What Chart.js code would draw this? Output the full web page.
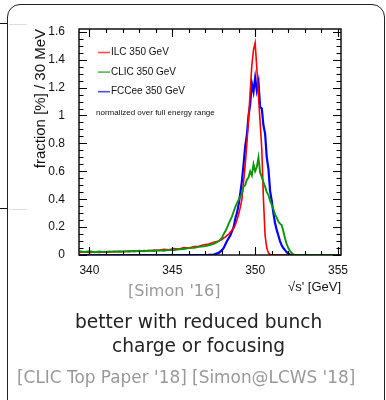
<!DOCTYPE html>
<html>
<head>
<meta charset="utf-8">
<script src="https://cdn.jsdelivr.net/npm/chart.js@4.4.1/dist/chart.umd.min.js"></script>
<style>
  html, body { margin: 0; padding: 0; background: #fff; }
  body { width: 386px; height: 400px; position: relative; overflow: hidden; }
  .box {
    position: absolute; left: 7px; top: 4px; width: 376px; height: 430px;
    border: 1.3px solid #222; border-radius: 13px; background: #fff;
  }
  .stub { position: absolute; height: 1.3px; }
  #wrap { position: absolute; left: 0; top: 0; width: 386px; height: 300px; }
  .cap { position: absolute; left: 0; width: 386px; white-space: nowrap;
         font-family: "DejaVu Sans", sans-serif; }
</style>
</head>
<body>
<!-- bits of the neighbouring figure peeking out on the left -->
<div class="stub" style="left:0;top:23px;width:8px;background:#111"></div>
<div class="stub" style="left:0;top:208px;width:8px;background:#111"></div>
<div class="box"></div>
<div class="stub" style="left:9px;top:23.5px;width:18px;background:#ddd"></div>
<div class="stub" style="left:9px;top:208.5px;width:18px;background:#ddd"></div>

<div id="wrap"><canvas id="chart" width="386" height="300"></canvas></div>

<div class="cap" style="top:281px;font-size:16px;color:#999;">
  <span style="position:absolute;left:128px;">[Simon '16]</span>
</div>
<div class="cap" style="top:311px;font-size:18.6px;color:#222;">
  <span style="position:absolute;left:75px;">better with reduced bunch</span>
</div>
<div class="cap" style="top:335px;font-size:18.6px;color:#222;">
  <span style="position:absolute;left:112px;">charge or focusing</span>
</div>
<div class="cap" style="top:367px;font-size:16.9px;color:#999;">
  <span style="position:absolute;left:17px;">[CLIC Top Paper '18] [Simon@LCWS '18]</span>
</div>

<script>
// sqrt(s') in GeV, fine binning around the peak
const energy = [339.4, 339.7, 340.0, 340.3, 340.6, 340.9, 341.2, 341.5, 341.8, 342.1,
  342.4, 342.7, 343.0, 343.3, 343.6, 343.9, 344.2, 344.5, 344.8, 345.1,
  345.4, 345.7, 346.0, 346.3, 346.6, 346.9, 347.2, 347.5, 347.8,
  348.0, 348.1, 348.2, 348.3, 348.4, 348.5, 348.6, 348.7, 348.8, 348.9,
  349.0, 349.1, 349.2, 349.3, 349.4, 349.5, 349.6, 349.7, 349.8, 349.9,
  350.0, 350.1, 350.2, 350.3, 350.4, 350.5, 350.6, 350.7, 350.8, 350.9,
  351.0, 351.1, 351.2, 351.3, 351.4, 351.5, 351.6, 351.7, 351.8, 351.9,
  352.0, 352.1, 352.2, 352.3, 352.4, 352.5,
  352.8, 353.2, 353.6, 354.0, 354.4, 354.8, 355.1];

// fraction [%] / 30 MeV
const ilc = [.018, .023, .017, .022, .019, .024, .020, .026, .022, .027,
  .024, .030, .026, .032, .029, .036, .033, .041, .037, .046,
  .043, .053, .050, .061, .063, .073, .078, .091, .100,
  .110, .122, .128, .140, .148, .165, .178, .192, .215, .250,
  .290, .340, .400, .520, .650, .800, .970, 1.170, 1.360, 1.470,
  1.520, 1.340, 1.140, .950, .760, .400, .140, .050, .015, .004,
  0, 0, 0, 0, 0, 0, 0, 0, 0, 0,
  0, 0, 0, 0, 0, 0,
  0, 0, 0, 0, 0, 0, 0];

const clic = [.028, .022, .027, .020, .025, .021, .026, .023, .027, .024,
  .029, .025, .030, .027, .032, .029, .034, .031, .037, .035,
  .041, .043, .049, .051, .058, .062, .070, .080, .098,
  .125, .150, .170, .195, .225, .250, .275, .310, .345, .370,
  .395, .420, .440, .490, .500, .540, .555, .600, .570, .650,
  .600, .630, .700, .590, .560, .520, .490, .450, .430, .390,
  .360, .330, .290, .270, .240, .225, .215, .170, .120, .080,
  .050, .030, .015, .005, 0, 0,
  0, 0, 0, 0, 0, 0, 0];

const fccee = [0, 0, 0, 0, 0, 0, 0, 0, 0, 0,
  0, 0, 0, 0, 0, 0, 0, 0, 0, 0,
  0, 0, 0, 0, 0, 0, .001, .003, .015,
  .035, .050, .075, .100, .120, .140, .170, .200, .260, .300,
  .360, .440, .530, .650, .780, .860, 1.000, 1.080, 1.230, 1.170,
  1.270, 1.180, 1.240, 1.060, 1.050, .930, .870, .700, .620, .460,
  .390, .300, .230, .180, .140, .100, .070, .050, .035, .020,
  .010, .004, 0, 0, 0, 0,
  0, 0, 0, 0, 0, 0, 0];

const seriesLabels = ['ILC 350 GeV', 'CLIC 350 GeV', 'FCCee 350 GeV'];
const seriesColors = ['#ff0000', '#0a960a', '#0000ff'];
const xTicks = [340, 345, 350, 355];
const yTicks = [0, 0.2, 0.4, 0.6, 0.8, 1.0, 1.2, 1.4, 1.6];
const legendNote = 'normalized over full energy range';

const toPoints = vals => energy.map((e, i) => ({ x: e, y: vals[i] }));

// ROOT-like frame with inward ticks on all four sides + in-plot legend
const rootFrame = {
    id: 'rootFrame',
    afterDraw(chart) {
        const { ctx, chartArea: a, scales: { x, y } } = chart;
        ctx.save();
        ctx.strokeStyle = '#000';
        ctx.lineWidth = 1.4;
        ctx.strokeRect(a.left, a.top, a.right - a.left, a.bottom - a.top);

        ctx.lineWidth = 1.1;
        ctx.beginPath();
        for (let v = 340; v <= 355; v++) {
            const px = Math.round(x.getPixelForValue(v)) + 0.5;
            const len = v % 5 === 0 ? 8 : 4;
            ctx.moveTo(px, a.bottom); ctx.lineTo(px, a.bottom - len);
            ctx.moveTo(px, a.top); ctx.lineTo(px, a.top + len);
        }
        for (let k = 0; k <= 32; k++) {
            const py = Math.round(y.getPixelForValue(k * 0.05)) + 0.5;
            const len = k % 4 === 0 ? 8 : 4.5;
            ctx.moveTo(a.left, py); ctx.lineTo(a.left + len, py);
            ctx.moveTo(a.right, py); ctx.lineTo(a.right - len, py);
        }
        ctx.stroke();

        // legend
        ctx.font = '10px "Liberation Sans", Arial, sans-serif';
        ctx.textBaseline = 'middle';
        ctx.fillStyle = '#111';
        chart.data.datasets.forEach((ds, i) => {
            const ly = 52.5 + i * 19.6;
            ctx.strokeStyle = ds.borderColor;
            ctx.globalAlpha = 0.7;
            ctx.lineWidth = 1.6;
            ctx.beginPath();
            ctx.moveTo(98, ly); ctx.lineTo(110, ly);
            ctx.stroke();
            ctx.globalAlpha = 1;
            ctx.fillText(ds.label, 111, ly);
        });
        ctx.font = '8px "Liberation Sans", Arial, sans-serif';
        ctx.fillText(legendNote, 96, 112.5);
        ctx.restore();
    }
};

new Chart(document.getElementById('chart'), {
    type: 'line',
    data: {
        datasets: [
            { label: seriesLabels[0], data: toPoints(ilc), borderColor: seriesColors[0], order: 2 },
            { label: seriesLabels[1], data: toPoints(clic), borderColor: seriesColors[1], borderWidth: 1.9, order: 1 },
            { label: seriesLabels[2], data: toPoints(fccee), borderColor: seriesColors[2], borderWidth: 2.2, order: 3 }
        ]
    },
    options: {
        responsive: false,
        animation: false,
        layout: { padding: { left: 0, top: 29, right: 45, bottom: 5 } },
        elements: {
            point: { radius: 0 },
            line: { borderWidth: 1.6, tension: 0, fill: false }
        },
        scales: {
            x: {
                type: 'linear',
                min: 339.37,
                max: 355.18,
                grid: { display: false },
                border: { display: false },
                afterBuildTicks: s => { s.ticks = xTicks.map(v => ({ value: v })); },
                afterFit: s => { s.height = 40; },
                ticks: {
                    padding: 0,
                    color: '#111',
                    font: { family: '"Liberation Sans", Arial, sans-serif', size: 12 },
                    callback: v => String(v)
                },
                title: {
                    display: true,
                    text: "\u221As' [GeV]",
                    align: 'end',
                    color: '#111',
                    padding: 0,
                    font: { family: '"Liberation Sans", Arial, sans-serif', size: 13 }
                }
            },
            y: {
                min: 0,
                max: 1.62,
                grid: { display: false },
                border: { display: false },
                afterBuildTicks: s => { s.ticks = yTicks.map(v => ({ value: v })); },
                afterFit: s => { s.width = 79; },
                ticks: {
                    padding: 6,
                    color: '#111',
                    font: { family: '"Liberation Sans", Arial, sans-serif', size: 12 },
                    callback: v => String(+v.toFixed(1))
                },
                title: {
                    display: true,
                    text: 'fraction [%] / 30 MeV',
                    align: 'end',
                    color: '#111',
                    padding: { top: 32, bottom: 0 },
                    font: { family: '"Liberation Sans", Arial, sans-serif', size: 15 }
                }
            }
        },
        plugins: {
            legend: { display: false },
            tooltip: { enabled: false }
        }
    },
    plugins: [rootFrame]
});
</script>
</body>
</html>
